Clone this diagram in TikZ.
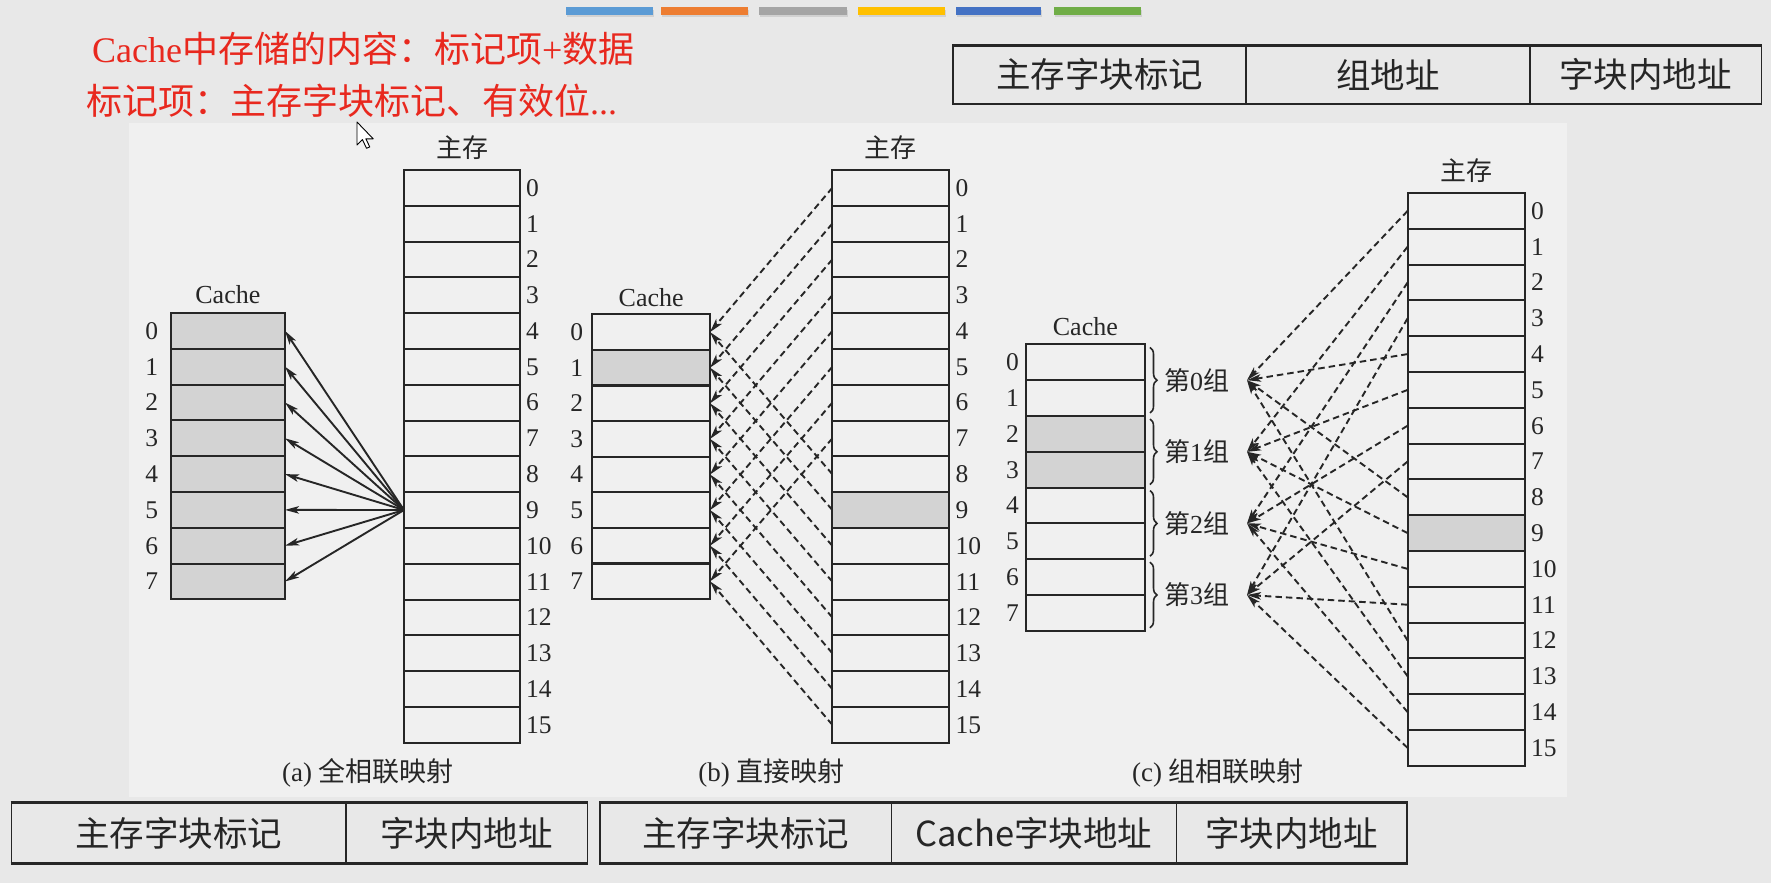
\documentclass[tikz,border=0pt]{standalone}
\usepackage{fontspec}
\setmainfont{Liberation Serif}
\newfontfamily\cjk{Noto Sans CJK SC}
\usetikzlibrary{arrows.meta,decorations.pathreplacing}
\definecolor{bgout}{HTML}{E8E8E8}
\definecolor{bgin}{HTML}{F0F0F0}
\definecolor{linec}{HTML}{262626}
\definecolor{shadec}{HTML}{D3D3D3}
\definecolor{redt}{HTML}{E8281E}
\definecolor{barA}{HTML}{5B9BD5}
\definecolor{barB}{HTML}{ED7D31}
\definecolor{barC}{HTML}{A5A5A5}
\definecolor{barD}{HTML}{FFC000}
\definecolor{barE}{HTML}{4472C4}
\definecolor{barF}{HTML}{70AD47}
\tikzset{
  cell/.style={draw=linec, line width=2pt, minimum height=35.8pt, inner sep=0pt, outer sep=0pt},
  idx/.style={font=\fontsize{25.5}{25.5}\selectfont, text=linec, inner sep=0pt},
  lbl/.style={font=\fontsize{26}{26}\selectfont, text=linec, inner sep=0pt},
  captext/.style={font=\fontsize{27}{27}\selectfont, text=linec, inner sep=0pt},
  arr/.style={-{Stealth[length=14pt,width=7.5pt,inset=3.5pt]}, line width=1.9pt, draw=linec},
  darr/.style={arr, dash pattern=on 6.5pt off 4pt},
  tcell/.style={draw=linec, line width=1.6pt, inner sep=0pt, font=\cjk\fontsize{34.5}{34.5}\selectfont, text=linec},
  redline/.style={font=\fontsize{36}{36}\selectfont, text=redt, inner sep=0pt, anchor=base west}
}
\begin{document}
\begin{tikzpicture}[x=1pt,y=-1pt]
\useasboundingbox (0,0) rectangle (1771,883);
\fill[bgout] (0,0) rectangle (1771,883);
\fill[bgin] (129.3,122.7) rectangle (1567,796.7);

% top colour bars
\foreach \xa/\xb/\c in {566/653/barA,661/748/barB,759/847/barC,858/945/barD,956/1041/barE,1054/1141/barF}{
  \fill[black!18] (\xa+1,10) rectangle (\xb+1,17);
  \fill[\c] (\xa,7.5) rectangle (\xb,15);
}

% red text
\node[redline] (r1) at (92,63) {Cache{\cjk 中存储的内容：标记项}+{\cjk 数据}};
\node[redline] (r2) at (86,114.5) {{\cjk 标记项：主存字块标记、有效位}...};

% top-right table
\node[tcell, minimum width=292.6pt, minimum height=57.3pt] (tr1) at (1099.5,74.7) {主存字块标记};
\node[tcell, minimum width=284pt, minimum height=57.3pt] (tr2) at (1387.8,74.7) {组地址};
\node[tcell, minimum width=231.6pt, minimum height=57.3pt] (tr3) at (1645.6,74.7) {字块内地址};
\draw[linec, line width=2.4pt] (tr1.north west) -- (tr3.north east) (tr1.south west) -- (tr3.south east);

% bottom tables
\node[tcell, minimum width=334.5pt, minimum height=59.4pt] (bl1) at (178.55,833) {主存字块标记};
\node[tcell, minimum width=241.8pt, minimum height=59.4pt] (bl2) at (466.7,833) {字块内地址};
\draw[linec, line width=2.6pt] (bl1.north west) -- (bl2.north east) (bl1.south west) -- (bl2.south east);
\node[tcell, minimum width=291.5pt, minimum height=59.4pt] (bm1) at (745.75,833) {主存字块标记};
\node[tcell, minimum width=284.8pt, minimum height=59.4pt] (bm2) at (1033.9,833) {Cache字块地址};
\node[tcell, minimum width=230.5pt, minimum height=59.4pt] (bm3) at (1291.55,833) {字块内地址};
\draw[linec, line width=2.6pt] (bm1.north west) -- (bm3.north east) (bm1.south west) -- (bm3.south east);

% ================= panel (a)
\foreach \i in {0,...,7}{
  \node[cell, minimum width=114.3pt, fill=shadec] (ac\i) at (227.85,{313+35.8*\i+17.9}) {};
  \node[idx] (acl\i) at (151.7,{313+35.8*\i+17.9}) {\i};
}
\foreach \i in {0,...,15}{
  \node[cell, minimum width=116pt] (am\i) at (462,{169.9+35.8*\i+17.9}) {};
  \node[idx, anchor=west] (aml\i) at ([xshift=6pt]am\i.east) {\i};
}
\node[lbl] (acT) at ([yshift=18pt]ac0.north) {Cache};
\node[lbl] (amT) at ([yshift=22pt]am0.north) {\cjk 主存};
\node[captext] (capa) at (368,773) {(a) {\cjk 全相联映射}};
\foreach \i in {0,...,7}{
  \draw[arr] (am9.west) -- (ac\i.east);
}

% ================= panel (b)
\foreach \i in {0,...,7}{
  \ifnum\i=1 \def\ff{shadec}\else\def\ff{none}\fi
  \node[cell, minimum width=117.7pt, fill=\ff] (bc\i) at (651.15,{314.3+35.6*\i+17.8}) {};
  \node[idx] (bcl\i) at (576.7,{314.3+35.6*\i+17.8}) {\i};
}
\foreach \i in {0,...,15}{
  \ifnum\i=9 \def\ff{shadec}\else\def\ff{none}\fi
  \node[cell, minimum width=117pt, fill=\ff] (bm\i) at (890.8,{169.9+35.8*\i+17.9}) {};
  \node[idx, anchor=west] (bml\i) at ([xshift=6pt]bm\i.east) {\i};
}
\node[lbl] (bcT) at ([yshift=17pt]bc0.north) {Cache};
\node[lbl] (bmT) at ([yshift=22pt]bm0.north) {\cjk 主存};
\node[captext] (capb) at (771.5,773) {(b) {\cjk 直接映射}};
\foreach \i in {0,...,15}{
  \pgfmathtruncatemacro\j{mod(\i,8)}
  \draw[darr] (bm\i.west) -- (bc\j.east);
}

% ================= panel (c)
\foreach \i in {0,...,7}{
  \ifnum\i=2 \def\ff{shadec}\else\ifnum\i=3 \def\ff{shadec}\else\def\ff{none}\fi\fi
  \node[cell, minimum width=118.7pt, fill=\ff] (cc\i) at (1085.35,{344.4+35.8*\i+17.9}) {};
  \node[idx] (ccl\i) at (1012.6,{344.4+35.8*\i+17.9}) {\i};
}
\foreach \i in {0,...,15}{
  \ifnum\i=9 \def\ff{shadec}\else\def\ff{none}\fi
  \node[cell, minimum width=117.4pt, fill=\ff] (cm\i) at (1466.3,{193+35.8*\i+17.9}) {};
  \node[idx, anchor=west] (cml\i) at ([xshift=6pt]cm\i.east) {\i};
}
\node[lbl] (ccT) at ([yshift=18pt]cc0.north) {Cache};
\node[lbl] (cmT) at ([yshift=22pt]cm0.north) {\cjk 主存};
\node[captext] (capc) at (1218,773) {(c) {\cjk 组相联映射}};
\foreach \j in {0,...,3}{
  \draw[linec, line width=1.6pt, decorate, decoration={brace, amplitude=7pt}]
    (1150,{344.4+71.6*\j+3}) -- (1150,{344.4+71.6*\j+71.6-3});
  \node[lbl, anchor=west] (g\j) at (1164,{344.4+71.6*\j+35.8}) {{\cjk 第}\j{\cjk 组}};
  \coordinate (gt\j) at (1247,{344.4+71.6*\j+35.8});
}
\foreach \i in {0,...,15}{
  \pgfmathtruncatemacro\j{mod(\i,4)}
  \draw[darr] (cm\i.west) -- (gt\j);
}

% mouse cursor
\draw[fill=white, draw=black, line width=0.9pt, line join=round]
  (357,122) -- ++(0,23) -- ++(5.4,-5.5) -- ++(4.1,8.8) -- ++(3.3,-1.4) -- ++(-4,-8.1) -- ++(7.4,0) -- cycle;
\end{tikzpicture}
\end{document}
